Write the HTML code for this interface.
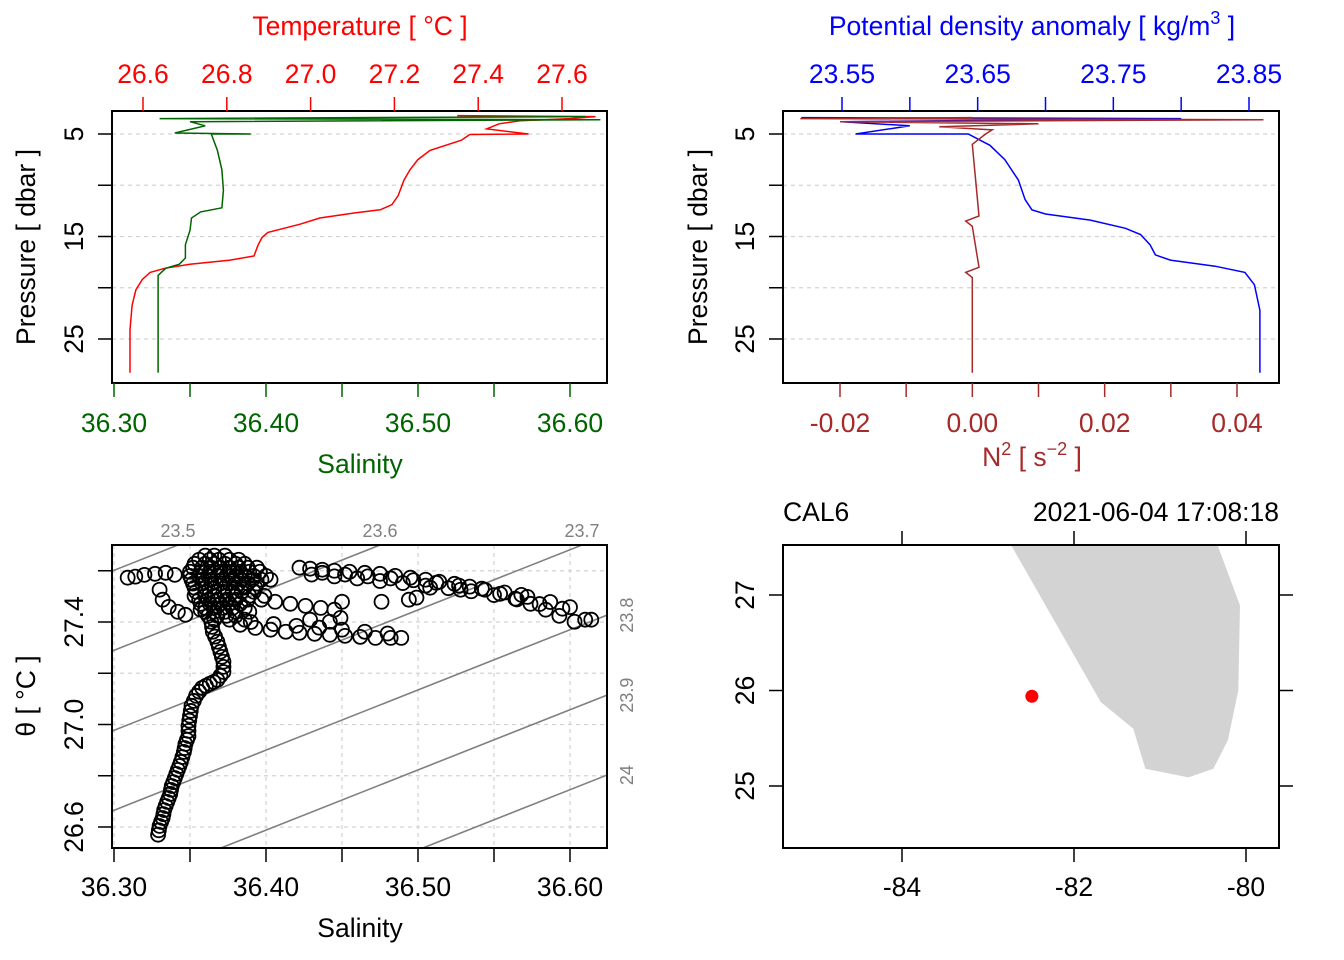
<!DOCTYPE html>
<html><head><meta charset="utf-8"><style>
html,body{margin:0;padding:0;background:#fff;overflow:hidden;width:1344px;height:960px}
svg{display:block;font-family:"Liberation Sans",sans-serif}
</style></head><body>
<svg id="c" width="1344" height="960" xmlns="http://www.w3.org/2000/svg"></svg>
<script>
// ---------- data ----------
const tempP=[3.2,3.3,3.5,3.7,4.0,4.5,5.0,5.05,5.6,6.6,7.5,8.5,9.5,11.0,11.9,12.4,12.7,13.2,13.8,14.6,15.1,15.9,16.9,17.3,17.7,18.1,18.5,19.2,20.2,21.7,24.1,28.3];
const tempT=[27.35,27.68,27.62,27.50,27.45,27.42,27.52,27.38,27.36,27.285,27.256,27.237,27.223,27.209,27.194,27.166,27.106,27.022,26.975,26.898,26.884,26.874,26.865,26.808,26.712,26.652,26.617,26.598,26.583,26.574,26.569,26.569];
const salP=[3.3,3.5,3.6,3.8,4.2,4.9,5.0,5.0,6.6,8.5,10.5,12.2,12.6,13.2,14.4,15.8,17.1,17.7,18.1,18.8,21.2,28.3];
const salS=[36.61,36.33,36.62,36.35,36.36,36.34,36.39,36.364,36.368,36.371,36.372,36.371,36.357,36.351,36.350,36.347,36.347,36.343,36.334,36.329,36.329,36.329];
const sigP=[3.4,3.5,3.8,4.2,5.0,5.0,6.1,7.5,9.5,11.4,12.4,12.8,13.4,14.2,14.8,15.8,16.8,17.3,17.9,18.5,19.7,22.2,28.3];
const sigV=[23.52,23.80,23.55,23.60,23.56,23.643,23.659,23.670,23.680,23.685,23.690,23.700,23.733,23.759,23.770,23.777,23.781,23.792,23.825,23.847,23.854,23.858,23.858];
const n2P=[3.4,3.5,3.6,3.8,4.0,4.3,4.6,5.0,6.0,13.0,13.5,14.0,18.0,18.5,19.0,28.3];
const n2V=[0.0,-0.026,0.044,-0.020,0.010,-0.005,0.003,0.002,0.0,0.001,-0.001,0.0,0.001,-0.001,0.0,0.0];
const tempTicks=[26.6,26.8,27.0,27.2,27.4,27.6];
const salTicks=[36.30,36.35,36.40,36.45,36.50,36.55,36.60];
const salLabels=["36.30","36.40","36.50","36.60"];
const presTicks=[5,10,15,20,25];
const presLabels=[5,15,25];
const sigTicks=[23.55,23.60,23.65,23.70,23.75,23.80,23.85];
const sigLabels=["23.55","23.65","23.75","23.85"];
const n2Ticks=[-0.02,-0.01,0,0.01,0.02,0.03,0.04];
const n2Labels=["-0.02","0.00","0.02","0.04"];
// TS diagram
const tsS=[36.329,36.330,36.332,36.333,36.335,36.337,36.338,36.340,36.342,36.344,36.346,36.347,36.349,36.349,36.350,36.351,36.354,36.358,36.363,36.368,36.372,36.372,36.370,36.368,36.365,36.364,
36.3295,36.331,36.3325,36.334,36.336,36.3375,36.339,36.341,36.343,36.345,36.3465,36.348,36.349,36.3495,36.3505,36.3525,36.356,36.3605,36.3655,36.370,36.372,36.371,36.369,36.3665,36.3645,
36.360,36.366,36.373,
36.353,36.360,36.366,36.373,36.380,36.386,
36.350,36.357,36.363,36.370,36.376,36.383,36.389,36.396,
36.351,36.358,36.364,36.371,36.378,36.384,36.391,36.397,36.403,
36.353,36.360,36.366,36.373,36.380,36.386,36.393,
36.353,36.360,36.366,36.373,36.380,36.389,36.399,
36.357,36.363,36.370,36.376,36.383,
36.360,36.366,36.373,36.380,36.389,
36.366,36.376,36.386,
36.356,36.363,36.369,36.376,36.382,
36.352,36.358,36.364,36.370,36.376,36.382,36.388,36.394,
36.350,36.356,36.362,36.368,36.374,36.380,36.386,36.392,36.400,
36.352,36.358,36.364,36.370,36.376,36.382,36.388,36.394,
36.354,36.360,36.366,36.372,36.378,36.384,36.392,
36.356,36.362,36.368,36.374,36.380,36.388,
36.360,36.366,36.372,36.378,36.386,
36.362,36.368,36.374,36.380,
36.309,36.314,36.320,36.327,36.334,36.340,36.330,36.332,36.336,36.342,36.347,36.357,
36.383,36.393,36.403,36.413,36.422,36.432,36.442,36.452,36.462,36.472,36.482,36.489,
36.390,36.405,36.420,36.435,36.450,36.465,36.480,
36.397,36.406,36.416,36.426,36.436,36.445,36.450,36.449,36.442,36.429,
36.422,36.429,36.437,36.445,36.455,36.465,36.475,36.485,36.495,36.505,36.514,36.524,36.534,36.544,36.554,36.564,36.574,36.584,36.593,36.603,36.614,36.610,
36.430,36.445,36.460,36.475,36.490,36.505,36.520,36.535,36.550,36.565,36.580,36.595,
36.437,36.452,36.467,36.482,36.497,36.512,36.527,36.542,36.557,36.572,36.587,36.600,
36.476,36.494,36.499,36.568,36.508,36.528];
const tsT=[26.570,26.604,26.635,26.666,26.698,26.729,26.760,26.791,26.823,26.854,26.893,26.924,26.955,26.995,27.034,27.073,27.112,27.143,27.159,27.174,27.205,27.245,27.284,27.323,27.362,27.401,
26.587,26.620,26.650,26.682,26.713,26.745,26.775,26.807,26.838,26.873,26.908,26.940,26.975,27.015,27.053,27.092,27.128,27.151,27.166,27.190,27.225,27.264,27.303,27.343,27.381,
27.659,27.659,27.659,
27.627,27.627,27.627,27.627,27.627,27.627,
27.596,27.596,27.596,27.596,27.596,27.596,27.596,27.596,
27.565,27.565,27.565,27.565,27.565,27.565,27.565,27.565,27.565,
27.534,27.534,27.534,27.534,27.534,27.534,27.534,
27.502,27.502,27.502,27.502,27.502,27.502,27.502,
27.471,27.471,27.471,27.471,27.471,
27.440,27.440,27.440,27.440,27.440,
27.409,27.409,27.409,
27.643,27.643,27.643,27.643,27.643,
27.612,27.612,27.612,27.612,27.612,27.612,27.612,27.612,
27.580,27.580,27.580,27.580,27.580,27.580,27.580,27.580,27.580,
27.550,27.550,27.550,27.550,27.550,27.550,27.550,27.550,
27.518,27.518,27.518,27.518,27.518,27.518,27.518,
27.487,27.487,27.487,27.487,27.487,27.487,
27.455,27.455,27.455,27.455,27.455,
27.424,27.424,27.424,27.424,
27.573,27.577,27.584,27.588,27.592,27.584,27.526,27.487,27.459,27.440,27.428,27.448,
27.389,27.377,27.370,27.362,27.358,27.354,27.350,27.346,27.342,27.338,27.338,27.338,
27.400,27.392,27.385,27.378,27.370,27.362,27.355,
27.487,27.479,27.471,27.463,27.455,27.448,27.479,27.416,27.401,27.409,
27.612,27.608,27.604,27.600,27.596,27.592,27.588,27.580,27.573,27.565,27.557,27.549,27.538,27.526,27.510,27.491,27.471,27.448,27.424,27.401,27.409,27.409,
27.585,27.578,27.570,27.560,27.552,27.542,27.532,27.520,27.505,27.488,27.470,27.452,
27.592,27.585,27.578,27.570,27.563,27.553,27.542,27.530,27.515,27.498,27.478,27.458,
27.479,27.487,27.495,27.506,27.534,27.526];
const thetaTicks=[26.6,26.8,27.0,27.2,27.4,27.6];
const thetaLabels=["26.6","27.0","27.4"];
const isoVals=[23.5,23.6,23.7,23.8,23.9,24.0,24.1,24.2];
// map
const lonTicks=[-84,-82,-80];
const latTicks=[25,26,27];
const coastLon=[-82.73,-80.33,-80.07,-80.09,-80.21,-80.38,-80.67,-81.17,-81.31,-81.69,-82.73];
const coastLat=[27.52,27.52,26.89,26.0,25.48,25.18,25.09,25.18,25.6,25.88,27.52];
const stationLon=[-82.49];
const stationLat=[25.94];

// ---------- helpers ----------
const svg=document.getElementById('c');
const NS='http://www.w3.org/2000/svg';
function mk(tag,attrs,parent,txt){const e=document.createElementNS(NS,tag);for(const k in attrs)e.setAttribute(k,attrs[k]);if(txt!==undefined)e.textContent=txt;(parent||svg).appendChild(e);return e;}
function lin(d0,d1,p0,p1){return v=>p0+(v-d0)*(p1-p0)/(d1-d0);}
function poly(xs,ys,fx,fy){return xs.map((v,i)=>fx(v).toFixed(1)+','+fy(ys[i]).toFixed(1)).join(' ');}

const defs=mk('defs',{});
[['c1',112,111,495,272],['c2',783,111,496,272],['c3',112,545,495,303],['c4',783,545,496,303]].forEach(a=>{const cp=mk('clipPath',{id:a[0]},defs);mk('rect',{x:a[1],y:a[2],width:a[3],height:a[4]},cp);});

const FS=26.5;
// ================= Panel 1 =================
const p1=mk('g',{});


const yP1=lin(5,25,134,339);
const xT=lin(26.6,27.6,143,562);
const xS=lin(36.3,36.6,114,570);
presTicks.forEach(p=>{const l=mk('line',{x1:112,x2:607,y1:yP1(p),y2:yP1(p),stroke:'#d3d3d3','stroke-dasharray':'4,4','stroke-width':1.2},p1);});
const tl=mk('polyline',{points:poly(tempT,tempP,xT,yP1),fill:'none',stroke:'#ff0000','stroke-width':1.5,'clip-path':'url(#c1)'},p1);

const sl=mk('polyline',{points:poly(salS,salP,xS,yP1),fill:'none',stroke:'#006400','stroke-width':1.5,'clip-path':'url(#c1)'},p1);

mk('rect',{x:112,y:111,width:495,height:272,fill:'none',stroke:'#000','stroke-width':2},p1);
tempTicks.forEach(t=>{mk('line',{x1:xT(t),x2:xT(t),y1:111,y2:97,stroke:'#ff0000','stroke-width':1.5},p1);const e=mk('text',{x:xT(t),y:83,'text-anchor':'middle','font-size':FS,fill:'#ff0000'},p1,t.toFixed(1));});
salTicks.forEach(s=>mk('line',{x1:xS(s),x2:xS(s),y1:383,y2:397,stroke:'#006400','stroke-width':1.5},p1));
salLabels.forEach(s=>{const e=mk('text',{x:xS(+s),y:432,'text-anchor':'middle','font-size':FS,fill:'#006400'},p1,s);});
presTicks.forEach(p=>mk('line',{x1:112,x2:98,y1:yP1(p),y2:yP1(p),stroke:'#000','stroke-width':1.5},p1));
presLabels.forEach(p=>{const e=mk('text',{x:0,y:0,'text-anchor':'middle','font-size':FS,transform:`translate(83,${yP1(p)}) rotate(-90)`},p1,String(p));});
let e=mk('text',{x:0,y:0,'text-anchor':'middle','font-size':FS,transform:'translate(35,247) rotate(-90)'},p1,'Pressure [ dbar ]');
e=mk('text',{x:360,y:35,'text-anchor':'middle','font-size':FS,fill:'#ff0000'},p1,'Temperature [ °C ]');
e=mk('text',{x:360,y:473,'text-anchor':'middle','font-size':FS,fill:'#006400'},p1,'Salinity');

// ================= Panel 2 =================
const p2=mk('g',{});


const xSig=lin(23.55,23.85,842,1249);
const xN=lin(-0.02,0.04,840,1237);
presTicks.forEach(p=>{const l=mk('line',{x1:783,x2:1279,y1:yP1(p),y2:yP1(p),stroke:'#d3d3d3','stroke-dasharray':'4,4','stroke-width':1.2},p2);});
const dl=mk('polyline',{points:poly(sigV,sigP,xSig,yP1),fill:'none',stroke:'#0000ff','stroke-width':1.5,'clip-path':'url(#c2)'},p2);

const nl=mk('polyline',{points:poly(n2V,n2P,xN,yP1),fill:'none',stroke:'#a52a2a','stroke-width':1.5,'clip-path':'url(#c2)'},p2);

mk('rect',{x:783,y:111,width:496,height:272,fill:'none',stroke:'#000','stroke-width':2},p2);
sigTicks.forEach(s=>mk('line',{x1:xSig(s),x2:xSig(s),y1:111,y2:97,stroke:'#0000ff','stroke-width':1.5},p2));
sigLabels.forEach(s=>{const t=mk('text',{x:xSig(+s),y:83,'text-anchor':'middle','font-size':FS,fill:'#0000ff'},p2,s);});
n2Ticks.forEach(s=>mk('line',{x1:xN(s),x2:xN(s),y1:383,y2:397,stroke:'#a52a2a','stroke-width':1.5},p2));
n2Labels.forEach(s=>{const t=mk('text',{x:xN(+s),y:432,'text-anchor':'middle','font-size':FS,fill:'#a52a2a'},p2,s);});
presTicks.forEach(p=>mk('line',{x1:783,x2:769,y1:yP1(p),y2:yP1(p),stroke:'#000','stroke-width':1.5},p2));
presLabels.forEach(p=>{const t=mk('text',{x:0,y:0,'text-anchor':'middle','font-size':FS,transform:`translate(754,${yP1(p)}) rotate(-90)`},p2,String(p));});
e=mk('text',{x:0,y:0,'text-anchor':'middle','font-size':FS,transform:'translate(707,247) rotate(-90)'},p2,'Pressure [ dbar ]');
e=mk('text',{x:1032,y:35,'text-anchor':'middle','font-size':FS,fill:'#0000ff'},p2);
e.innerHTML='Potential density anomaly [ kg/m<tspan dy="-11" font-size="18">3</tspan><tspan dy="11"> ]</tspan>';
e=mk('text',{x:1032,y:466,'text-anchor':'middle','font-size':FS,fill:'#a52a2a'},p2);
e.innerHTML='N<tspan dy="-11" font-size="18">2</tspan><tspan dy="11"> [ s</tspan><tspan dy="-11" font-size="18">−2</tspan><tspan dy="11"> ]</tspan>';

// ================= Panel 3 (TS) =================
const p3=mk('g',{});


const yTh=lin(26.6,27.4,827,622);
salTicks.forEach(s=>{const l=mk('line',{x1:xS(s),x2:xS(s),y1:545,y2:848,stroke:'#d3d3d3','stroke-dasharray':'4,4','stroke-width':1.2},p3);});
thetaTicks.forEach(t=>{const l=mk('line',{x1:112,x2:607,y1:yTh(t),y2:yTh(t),stroke:'#d3d3d3','stroke-dasharray':'4,4','stroke-width':1.2},p3);});
isoVals.forEach(sv=>{
  const k=(sv-23.5)*2020;
  const xa=100,xb=620;
  const ya=545+(k-(xa-178))*0.396, yb=545+(k-(xb-178))*0.396;
  const l=mk('line',{x1:xa,y1:ya,x2:xb,y2:yb,stroke:'#808080','stroke-width':1.6,'clip-path':'url(#c3)'},p3);
  
  const xTop=178+k;
  if(xTop>=112&&xTop<=607){const t=mk('text',{x:xTop,y:537,'text-anchor':'middle','font-size':18,fill:'#808080'},p3,sv.toFixed(1));}
  else{const yR=545+(k-(607-178))*0.396;if(yR>545&&yR<848){const t=mk('text',{x:0,y:0,'text-anchor':'middle','font-size':18,fill:'#808080',transform:`translate(633,${yR}) rotate(-90)`},p3,(Math.round(sv*10)/10).toString());}}
});
const pts=mk('g',{'clip-path':'url(#c3)'},p3);
tsS.forEach((s,i)=>{const c=mk('circle',{cx:xS(s),cy:yTh(tsT[i]),r:7,fill:'none',stroke:'#000','stroke-width':1.8},pts);

});
mk('rect',{x:112,y:545,width:495,height:303,fill:'none',stroke:'#000','stroke-width':2},p3);
salTicks.forEach(s=>mk('line',{x1:xS(s),x2:xS(s),y1:848,y2:862,stroke:'#000','stroke-width':1.5},p3));
salLabels.forEach(s=>{const t=mk('text',{x:xS(+s),y:896,'text-anchor':'middle','font-size':FS},p3,s);});
thetaTicks.forEach(t=>mk('line',{x1:112,x2:98,y1:yTh(t),y2:yTh(t),stroke:'#000','stroke-width':1.5},p3));
thetaLabels.forEach(t=>{const x=mk('text',{x:0,y:0,'text-anchor':'middle','font-size':FS,transform:`translate(83,${yTh(+t)}) rotate(-90)`},p3,t);});
e=mk('text',{x:0,y:0,'text-anchor':'middle','font-size':FS,transform:'translate(35,696) rotate(-90)'},p3,'θ [ °C ]');
e=mk('text',{x:360,y:937,'text-anchor':'middle','font-size':FS},p3,'Salinity');

// ================= Panel 4 (map) =================
const p4=mk('g',{});


const xLon=lin(-84,-80,902,1246);
const yLat=lin(25,27,786,595);
const land=mk('polygon',{points:poly(coastLon,coastLat,xLon,yLat),fill:'#d3d3d3',stroke:'none','clip-path':'url(#c4)'},p4);

stationLon.forEach((lo,i)=>{const c=mk('circle',{cx:xLon(lo),cy:yLat(stationLat[i]),r:6.5,fill:'#ff0000'},p4);});
mk('rect',{x:783,y:545,width:496,height:303,fill:'none',stroke:'#000','stroke-width':2},p4);
lonTicks.forEach(l=>{mk('line',{x1:xLon(l),x2:xLon(l),y1:848,y2:862,stroke:'#000','stroke-width':1.5},p4);mk('line',{x1:xLon(l),x2:xLon(l),y1:545,y2:531,stroke:'#000','stroke-width':1.5},p4);
const t=mk('text',{x:xLon(l),y:896,'text-anchor':'middle','font-size':FS},p4,String(l));});
latTicks.forEach(l=>{mk('line',{x1:783,x2:769,y1:yLat(l),y2:yLat(l),stroke:'#000','stroke-width':1.5},p4);mk('line',{x1:1279,x2:1293,y1:yLat(l),y2:yLat(l),stroke:'#000','stroke-width':1.5},p4);
const t=mk('text',{x:0,y:0,'text-anchor':'middle','font-size':FS,transform:`translate(754,${yLat(l)}) rotate(-90)`},p4,String(l));});
e=mk('text',{x:783,y:521,'font-size':FS},p4,'CAL6');
e=mk('text',{x:1279,y:521,'text-anchor':'end','font-size':FS},p4,'2021-06-04 17:08:18');
</script>
</body></html>
